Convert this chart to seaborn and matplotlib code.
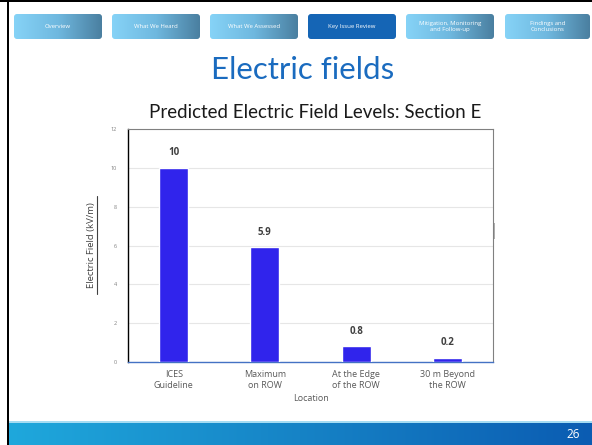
import numpy as np
import pandas as pd
import matplotlib
matplotlib.use("Agg")
import matplotlib.pyplot as plt
import seaborn as sns
from matplotlib.patches import FancyBboxPatch, Rectangle
from matplotlib.colors import LinearSegmentedColormap

# chart data
locations = ['ICES\nGuideline', 'Maximum\non ROW', 'At the Edge\nof the ROW', '30 m Beyond\nthe ROW']
field_kv = [10, 5.9, 0.8, 0.2]
value_labels = ['10', '5.9', '0.8', '0.2']
y_ticks = [0, 2, 4, 6, 8, 10, 12]

# slide navigation
nav_items = ['Overview', 'What We Heard', 'What We Assessed', 'Key Issue Review',
             'Mitigation, Monitoring\nand Follow-up', 'Findings and\nConclusions']
active_item = 'Key Issue Review'

df = pd.DataFrame({'location': locations, 'field': field_kv})

sns.set_style('white')
plt.rcParams['font.family'] = ['Open Sans', 'DejaVu Sans']
title_font = ['Lato', 'DejaVu Sans']

W, H = 592, 445
fig = plt.figure(figsize=(W / 100, H / 100), dpi=100)
fig.patch.set_facecolor('white')

# overlay in pixel coords for slide decorations
ov = fig.add_axes([0, 0, 1, 1], zorder=0)
ov.set_xlim(0, W)
ov.set_ylim(H, 0)
ov.axis('off')

grad = np.linspace(0, 1, 256).reshape(1, -1)
btn_cmap = LinearSegmentedColormap.from_list('btn', ['#86d3f7', '#6fb8df', '#4a7fa0'])
btn_x = [14, 112, 210, 308, 406, 505]
btn_w = 88
for x0, name in zip(btn_x, nav_items):
    w = btn_w if x0 != 505 else 85
    patch = FancyBboxPatch((x0, 14), w, 25, boxstyle='round,pad=0,rounding_size=3',
                           transform=ov.transData, facecolor='none', edgecolor='none')
    if name == active_item:
        patch.set_facecolor('#1565b5')
        ov.add_patch(patch)
    else:
        im = ov.imshow(grad, cmap=btn_cmap, aspect='auto', extent=(x0, x0 + w, 39, 14))
        im.set_clip_path(patch)
    ov.text(x0 + w / 2, 26.5, name, ha='center', va='center', color='white',
            fontsize=4.3, linespacing=1.1)

# bottom bar
bar_cmap = LinearSegmentedColormap.from_list('bar', ['#1fa8dc', '#1683c6', '#0b5cb2'])
ov.imshow(grad, cmap=bar_cmap, aspect='auto', extent=(8, W, H, 423))
ov.add_patch(Rectangle((8, 421), W - 8, 2, color='#a6dcf2', lw=0))
ov.text(580, 434, '26', ha='right', va='center', color='white', fontsize=8.5)

# slide border
ov.add_patch(Rectangle((0, 0), W, 1.5, color='black', lw=0))
ov.add_patch(Rectangle((6.5, 0), 2, H, color='black', lw=0))
ov.set_xlim(0, W)
ov.set_ylim(H, 0)

# titles
ov.text(303, 70, 'Electric fields', ha='center', va='center', color='#1a6bbf',
        fontsize=22.5, family=title_font)
ov.text(315, 113, 'Predicted Electric Field Levels: Section E', ha='center', va='center',
        color='#1a1a1a', fontsize=13.5, family=title_font)

# y label with underline
ov.text(91.5, 245, 'Electric Field (kV/m)', ha='center', va='center', rotation=90,
        fontsize=6.8, color='#404040')
ov.plot([96.5, 96.5], [196, 294], color='#404040', lw=0.8)
ov.add_patch(Rectangle((492, 223), 3, 16, color='#b0b0b0', lw=0))

# chart
ax = fig.add_axes([128 / W, 1 - 362 / H, 365 / W, 233 / H], zorder=2)
sns.barplot(data=df, x='location', y='field', color='#3024ec', width=0.32,
            saturation=1, ax=ax, zorder=3)
ax.set_ylim(0, 12)
ax.set_yticks(y_ticks)
ax.yaxis.grid(True, color='#e6e6e6', lw=0.8)
ax.set_axisbelow(True)
ax.tick_params(axis='y', labelsize=4, colors='#808080', length=0, pad=8)
ax.tick_params(axis='x', labelsize=6.5, colors='#595959', length=0, pad=6)
for t in ax.get_xticklabels():
    t.set_linespacing(1.2)
ax.spines['left'].set_color('black')
ax.spines['left'].set_linewidth(1.0)
ax.spines['bottom'].set_color('#4472c4')
ax.spines['bottom'].set_linewidth(1.0)
ax.spines['top'].set_color('#808080')
ax.spines['top'].set_linewidth(0.8)
ax.spines['right'].set_color('#808080')
ax.spines['right'].set_linewidth(0.8)
ax.set_xlabel('Location', fontsize=6.5, color='#595959', labelpad=3)
ax.set_ylabel('')

for i, (v, lab) in enumerate(zip(field_kv, value_labels)):
    ax.annotate(lab, (i, v), xytext=(0, 7), textcoords='offset points', ha='center',
                va='bottom', fontsize=7, fontweight='bold', color='#404040')

fig.savefig('out.png', dpi=100)
